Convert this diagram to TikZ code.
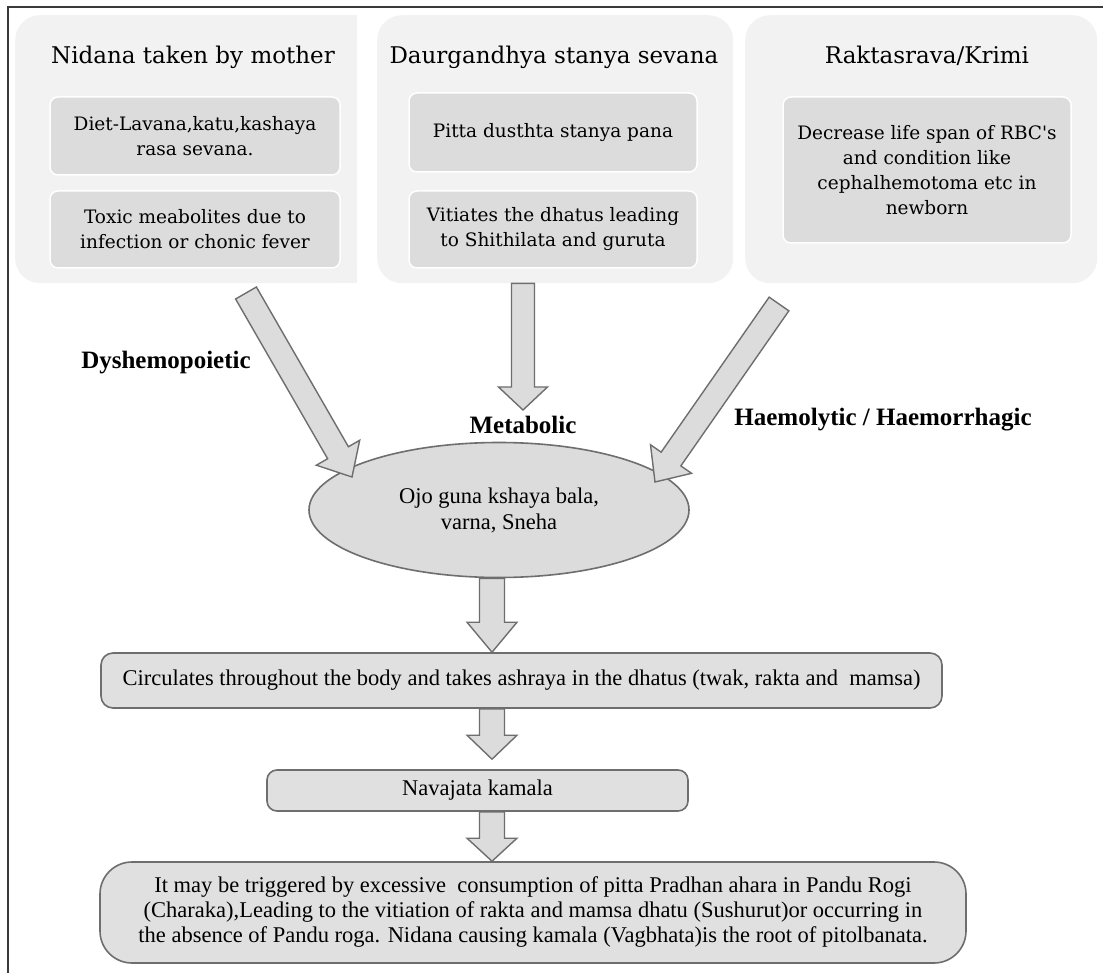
\documentclass[tikz,border=0pt]{standalone}
\usepackage{fontspec}
\setmainfont{Liberation Serif}
\newfontfamily\camfont{DejaVu Serif}
\usetikzlibrary{calc,shapes.geometric}
\definecolor{panelgray}{HTML}{F2F2F2}
\definecolor{boxgray}{HTML}{DCDCDC}
\definecolor{flowgray}{HTML}{E0E0E0}
\definecolor{edgegray}{HTML}{6E6E6E}
\definecolor{framegray}{HTML}{3A3A3A}
% #1 tail, #2 tip, #3 shaft half width, #4 head half width, #5 head length
\newcommand\blockarrow[5]{%
  \coordinate (ba-h) at ($(#2)!#5!(#1)$);
  \draw[barrow] ($(#1)!#3!90:(#2)$) -- ($(ba-h)!#3!90:(#2)$) -- ($(ba-h)!#4!90:(#2)$) -- (#2)
    -- ($(ba-h)!#4!-90:(#2)$) -- ($(ba-h)!#3!-90:(#2)$) -- ($(#1)!#3!-90:(#2)$) -- cycle;
}
\begin{document}
\begin{tikzpicture}[x=1pt,y=-1pt,
  panel/.style={fill=panelgray, rounded corners=25pt, inner sep=0pt, anchor=north west},
  ibox/.style={fill=boxgray, draw=white, line width=1.5pt, rounded corners=8pt, align=center, inner sep=0pt, font=\camfont\fontsize{18.5}{25}\selectfont},
  ptitle/.style={anchor=base, inner sep=0pt, font=\camfont\fontsize{23}{28}\selectfont},
  fbox/.style={fill=flowgray, draw=edgegray, line width=1.6pt, align=center, inner sep=0pt, font=\fontsize{22.5}{25}\selectfont},
  lbl/.style={font=\bfseries\fontsize{25}{30}\selectfont, inner sep=0pt},
  barrow/.style={fill=boxgray, draw=edgegray, line width=1.4pt, line join=miter},
]
\useasboundingbox (0,0) rectangle (1103,973);
\fill[white] (0,0) rectangle (1103,973);
\draw[framegray, line width=1.5pt] (8,973) -- (8,7) -- (1103,7);

% top panels
\node[panel, minimum width=342, minimum height=268] (p1) at (15,15) {};
\fill[panelgray] ($(p1.north east)+(-30,0)$) rectangle (p1.south east);
\node[panel, minimum width=356, minimum height=268] (p2) at (377,15) {};
\node[panel, minimum width=352, minimum height=268] (p3) at (745,15) {};

\node[ptitle] (t1) at (193,64) {Nidana taken by mother};
\node[ptitle] (t2) at (554,64) {Daurgandhya stanya sevana};
\node[ptitle] (t3) at (927,64) {Raktasrava/Krimi};

\node[ibox, minimum width=290, minimum height=78] (b1a) at (195,136) {Diet-Lavana,katu,kashaya\\rasa sevana.};
\node[ibox, minimum width=290, minimum height=77] (b1b) at (195,229.5) {Toxic meabolites due to\\infection or chonic fever};
\node[ibox, minimum width=288, minimum height=79] (b2a) at (553,132.5) {Pitta dusthta stanya pana};
\node[ibox, minimum width=288, minimum height=77] (b2b) at (553,229.5) {Vitiates the dhatus leading\\to Shithilata and guruta};
\node[ibox, minimum width=288, minimum height=146] (b3) at (927,170) {Decrease life span of RBC's\\and condition like\\cephalhemotoma etc in\\newborn};

% ellipse
\node[ellipse, fill=boxgray, draw=edgegray, line width=1.6pt, minimum width=380, minimum height=135, inner sep=0pt, align=center, font=\fontsize{22.5}{26}\selectfont] (ell) at (499,510) {Ojo guna kshaya bala,\\varna, Sneha};

% lower boxes
\node[fbox, rounded corners=12pt, minimum width=841, minimum height=55] (circ) at (521.5,680.5) {Circulates throughout the body and takes ashraya in the dhatus (twak, rakta and~ mamsa)};
\node[fbox, rounded corners=10pt, minimum width=421, minimum height=41] (nav) at (477.5,790.5) {Navajata kamala};
\node[fbox, rounded corners=32pt, minimum width=866, minimum height=101] (root) at (533,912.5) {It may be triggered by excessive~ consumption of pitta Pradhan ahara in Pandu Rogi\\(Charaka),Leading to the vitiation of rakta and mamsa dhatu (Sushurut)or occurring in\\the absence of Pandu roga. Nidana causing kamala (Vagbhata)is the root of pitolbanata.};

% labels
\node[lbl] (lD) at (166,363) {Dyshemopoietic};
\node[lbl] (lM) at (523,425) {Metabolic};
\node[lbl] (lH) at (883,420) {Haemolytic / Haemorrhagic};

% block arrows into ellipse
\coordinate (tailL) at (246,293);
\coordinate (tipL) at (352,477);
\coordinate (tailM) at (p2.south -| 523,0);
\coordinate (tipM) at (523,410);
\coordinate (tailR) at (779,304);
\coordinate (tipR) at (655,482);
\blockarrow{tailL}{tipL}{12pt}{25pt}{28pt}
\blockarrow{tailM}{tipM}{11.5pt}{24.5pt}{23pt}
\blockarrow{tailR}{tipR}{12pt}{25pt}{28pt}

% vertical chain
\coordinate (ax) at (492,0);
\coordinate (e1) at (ax |- ell.south);
\coordinate (e2) at (ax |- circ.north);
\coordinate (e3) at (ax |- circ.south);
\coordinate (e4) at ($(ax |- nav.north)+(0,-10)$);
\coordinate (e5) at (ax |- nav.south);
\coordinate (e6) at (ax |- root.north);
\blockarrow{e1}{e2}{12.5pt}{25pt}{30pt}
\blockarrow{e3}{e4}{12.5pt}{25pt}{24pt}
\blockarrow{e5}{e6}{12.5pt}{25pt}{23pt}
\end{tikzpicture}
\end{document}
